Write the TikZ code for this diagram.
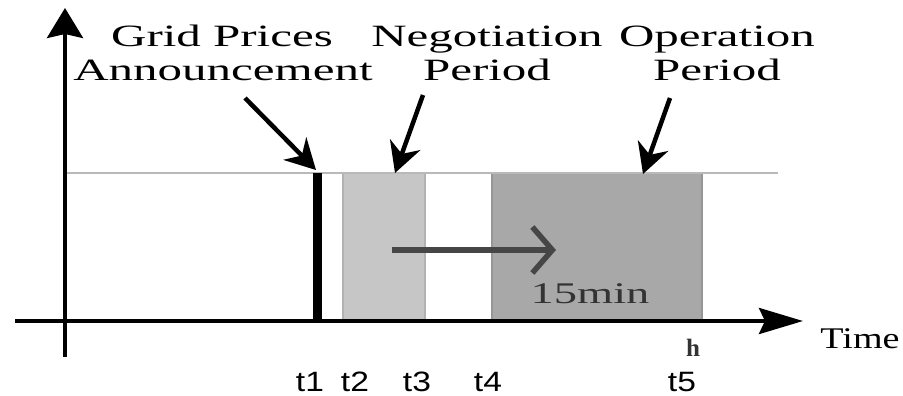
\documentclass[tikz,border=0pt]{standalone}
\usepackage{fontspec}
\setmainfont{Liberation Serif}
\newfontfamily\tsans{Liberation Sans}
\usetikzlibrary{arrows.meta}
\definecolor{lightbox}{RGB}{198,198,198}
\definecolor{lightedge}{RGB}{178,178,178}
\definecolor{darkbox}{RGB}{168,168,168}
\definecolor{darkedge}{RGB}{150,150,150}
\definecolor{topline}{RGB}{185,185,185}
\definecolor{arrowgray}{RGB}{70,70,70}
\newcommand\widen[2]{\scalebox{#1}[1]{#2}}
\tikzset{
  toplabel/.style={anchor=base, inner sep=0pt, font=\fontsize{31}{34}\selectfont, text=black},
  tlabel/.style={anchor=base, inner sep=0pt, font=\tsans\fontsize{28}{30}\selectfont},
  callout/.style={line width=4.5pt, -{Stealth[length=30pt,width=32pt]}},
  axis/.style={line width=4pt},
}
\begin{document}
\begin{tikzpicture}[x=1pt,y=-1pt]
\useasboundingbox (0,0) rectangle (903,396);
% boxes
\fill[lightbox, draw=lightedge, line width=2pt] (343,173) rectangle (425,321);
\fill[darkbox, draw=darkedge, line width=2pt] (492,173) rectangle (702,321);
% top reference line
\draw[topline, line width=2.5pt] (65,173) -- (778,173);
% t1 bar
\fill[black] (313,173) rectangle (322,321);
% axes
\coordinate (ybot) at (65,357);
\coordinate (ytop) at (65,8);
\coordinate (xl) at (15,321);
\coordinate (xr) at (803,321);
\draw[axis, -{Stealth[length=30pt,width=36pt,inset=4pt]}] (ybot) -- (ytop);
\draw[axis, -{Stealth[length=44pt,width=26pt,inset=6pt]}] (xl) -- (xr);
% shift arrow
\coordinate (sa) at (392,250);
\coordinate (sb) at (556,250);
\draw[arrowgray, line width=5.5pt, -{Straight Barb[length=20pt,width=46pt,line width=5.5pt]}] (sa) -- (sb);
% labels
\node[toplabel] (gp1) at (222,47) {\widen{1.58}{Grid Prices}};
\node[toplabel] (gp2) at (223,81) {\widen{1.58}{Announcement}};
\node[toplabel] (ng1) at (487,47) {\widen{1.58}{Negotiation}};
\node[toplabel] (ng2) at (487,81) {\widen{1.58}{Period}};
\node[toplabel] (op1) at (717,47) {\widen{1.58}{Operation}};
\node[toplabel] (op2) at (717,81) {\widen{1.58}{Period}};
% callout arrows
\coordinate (ga) at (245,98);
\coordinate (gb) at (316,170);
\coordinate (na) at (423,95);
\coordinate (nb) at (395,173);
\coordinate (oa) at (670,98);
\coordinate (ob) at (643,174);
\draw[callout] (ga) -- (gb);
\draw[callout] (na) -- (nb);
\draw[callout] (oa) -- (ob);
% 15min
\node[anchor=base, inner sep=0pt, font=\fontsize{30}{32}\selectfont, text=black!80] (dur) at (590,303) {\widen{1.55}{15min}};
% time axis labels
\node[anchor=base, inner sep=0pt, font=\fontsize{30}{32}\selectfont] (time) at (860,348) {\widen{1.27}{Time}};
\node[anchor=base, inner sep=0pt, font=\bfseries\fontsize{25}{27}\selectfont, text=black!80] (hh) at (693,356) {h};
\node[tlabel] (t1) at (310,391) {\widen{1.2}{t1}};
\node[tlabel] (t2) at (355,391) {\widen{1.2}{t2}};
\node[tlabel] (t3) at (417,391) {\widen{1.2}{t3}};
\node[tlabel] (t4) at (488,391) {\widen{1.2}{t4}};
\node[tlabel] (t5) at (682,391) {\widen{1.2}{t5}};
\end{tikzpicture}
\end{document}
